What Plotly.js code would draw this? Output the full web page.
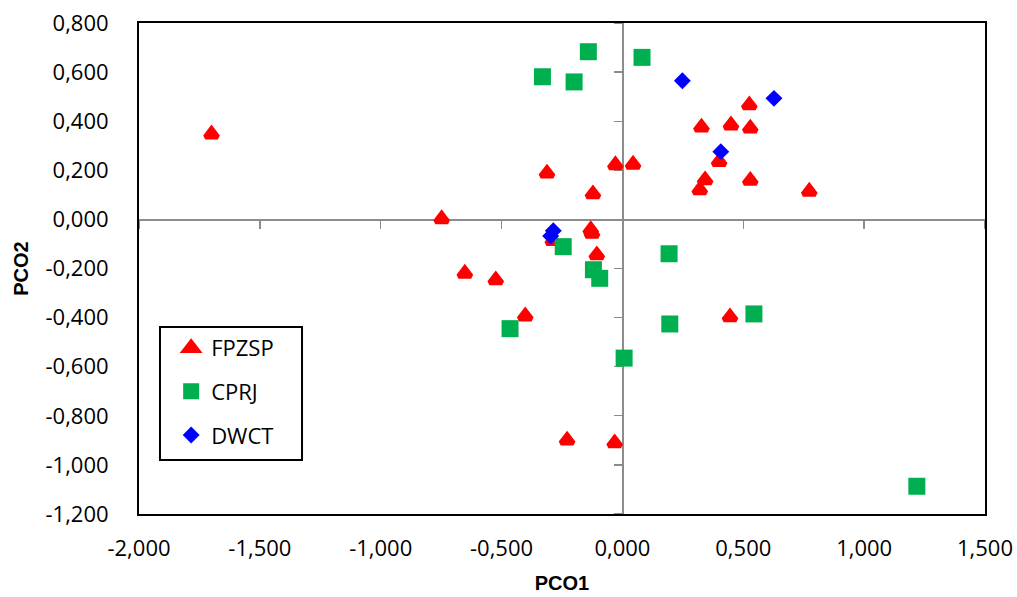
<!DOCTYPE html>
<html>
<head>
<meta charset="utf-8">
<script src="https://cdn.plot.ly/plotly-3.0.1.min.js"></script>
<style>
  html, body { margin: 0; padding: 0; background: #ffffff; }
  #chart { width: 1017px; height: 597px; }
</style>
</head>
<body>
<div id="chart"></div>
<script>
// PCO ordination scores per group
const fpzspX = [-1.700, -0.748, -0.652, -0.524, -0.402, -0.312, -0.288, -0.131, -0.126, -0.122, -0.106, -0.029, 0.044, -0.229, -0.032, 0.327, 0.400, 0.342, 0.320, 0.525, 0.449, 0.529, 0.529, 0.773, 0.445];
const fpzspY = [0.347, 0.002, -0.220, -0.247, -0.394, 0.188, -0.087, -0.043, -0.057, 0.103, -0.145, 0.222, 0.224, -0.900, -0.911, 0.375, 0.235, 0.160, 0.120, 0.466, 0.384, 0.371, 0.158, 0.114, -0.398];

const cprjX = [-0.141, -0.331, -0.200, 0.081, -0.245, -0.120, -0.094, 0.193, -0.465, 0.196, 0.007, 0.544, 1.218];
const cprjY = [0.683, 0.581, 0.560, 0.660, -0.111, -0.205, -0.240, -0.140, -0.445, -0.426, -0.565, -0.385, -1.087];

const dwctX = [0.248, 0.407, 0.627, -0.286, -0.297];
const dwctY = [0.565, 0.276, 0.493, -0.046, -0.068];

// Axis ticks and their labels (comma decimal)
const xTickVals = [-2, -1.5, -1, -0.5, 0, 0.5, 1, 1.5];
const xTickText = ['-2,000', '-1,500', '-1,000', '-0,500', '0,000', '0,500', '1,000', '1,500'];
const yTickVals = [-1.2, -1, -0.8, -0.6, -0.4, -0.2, 0, 0.2, 0.4, 0.6, 0.8];
const yTickText = ['-1,200', '-1,000', '-0,800', '-0,600', '-0,400', '-0,200', '0,000', '0,200', '0,400', '0,600', '0,800'];

const xRange = [-2, 1.5];
const yRange = [-1.2, 0.8];

const FONT = 'Open Sans, sans-serif';

const traces = [
  {
    name: 'FPZSP', x: fpzspX, y: fpzspY, type: 'scatter', mode: 'markers',
    legendgroup: 'a',
    marker: { symbol: 'triangle-up', size: 11, color: '#ff0000', line: { color: '#ff0000', width: 5 } }
  },
  {
    name: 'CPRJ', x: cprjX, y: cprjY, type: 'scatter', mode: 'markers',
    legendgroup: 'b',
    marker: { symbol: 'square', size: 17, color: '#00b050', line: { width: 0 } }
  },
  {
    name: 'DWCT', x: dwctX, y: dwctY, type: 'scatter', mode: 'markers',
    legendgroup: 'c',
    marker: { symbol: 'diamond', size: 13, color: '#0000ff', line: { width: 0 } }
  }
];

const frameAxis = {
  showgrid: false, zeroline: false,
  showline: true, linecolor: '#000000', linewidth: 2, mirror: true,
  ticks: '', ticklabelstandoff: 0,
  tickfont: { family: FONT, size: 22, color: '#000000' }
};

const layout = {
  width: 1017, height: 597,
  paper_bgcolor: '#ffffff', plot_bgcolor: '#ffffff',
  margin: { l: 139, r: 32, t: 23, b: 83 },
  showlegend: true,
  legend: {
    x: 0.038, y: 0.381, xanchor: 'left', yanchor: 'top',
    bgcolor: 'rgba(0,0,0,0)', borderwidth: 0,
    font: { family: FONT, size: 22, color: '#000000' },
    tracegroupgap: 12, itemwidth: 30
  },
  // Legend frame
  shapes: [{
    type: 'rect', xref: 'paper', yref: 'paper',
    x0: 0.0248, x1: 0.1927, y0: 0.110, y1: 0.381,
    line: { color: '#000000', width: 2 }, fillcolor: 'rgba(0,0,0,0)', layer: 'above'
  }],
  xaxis: Object.assign({}, frameAxis, {
    range: xRange, tickmode: 'array', tickvals: xTickVals, ticktext: xTickText,
    ticklabelstandoff: 14,
    title: { text: '<b>PCO1</b>', font: { family: 'Liberation Sans, sans-serif', size: 20, color: '#000000' }, standoff: 15 }
  }),
  yaxis: Object.assign({}, frameAxis, {
    range: yRange, tickmode: 'array', tickvals: yTickVals, ticktext: yTickText,
    ticklabelstandoff: 24,
    title: { text: '<b>PCO2</b>', font: { family: 'Liberation Sans, sans-serif', size: 20, color: '#000000' }, standoff: 12 }
  }),
  // Axes crossing at the origin, with their own tick marks
  xaxis2: {
    overlaying: 'x', anchor: 'free', position: 0.6, side: 'bottom',
    range: xRange, tickmode: 'array', tickvals: xTickVals,
    showticklabels: false, showgrid: false, zeroline: false,
    showline: true, linecolor: '#8c8c8c', linewidth: 1.3,
    ticks: 'outside', ticklen: 8, tickcolor: '#8c8c8c', tickwidth: 1.3,
    layer: 'below traces'
  },
  yaxis2: {
    overlaying: 'y', anchor: 'free', position: 0.5714, side: 'left',
    range: yRange, tickmode: 'array', tickvals: yTickVals,
    showticklabels: false, showgrid: false, zeroline: false,
    showline: true, linecolor: '#8c8c8c', linewidth: 1.3,
    ticks: 'outside', ticklen: 8, tickcolor: '#8c8c8c', tickwidth: 1.3,
    layer: 'below traces'
  }
};

// Empty trace so the crossing axes get drawn
traces.push({ x: [], y: [], xaxis: 'x2', yaxis: 'y2', type: 'scatter', mode: 'markers', showlegend: false, hoverinfo: 'skip' });

Plotly.newPlot('chart', traces, layout, { staticPlot: true, displayModeBar: false });
</script>
</body>
</html>
